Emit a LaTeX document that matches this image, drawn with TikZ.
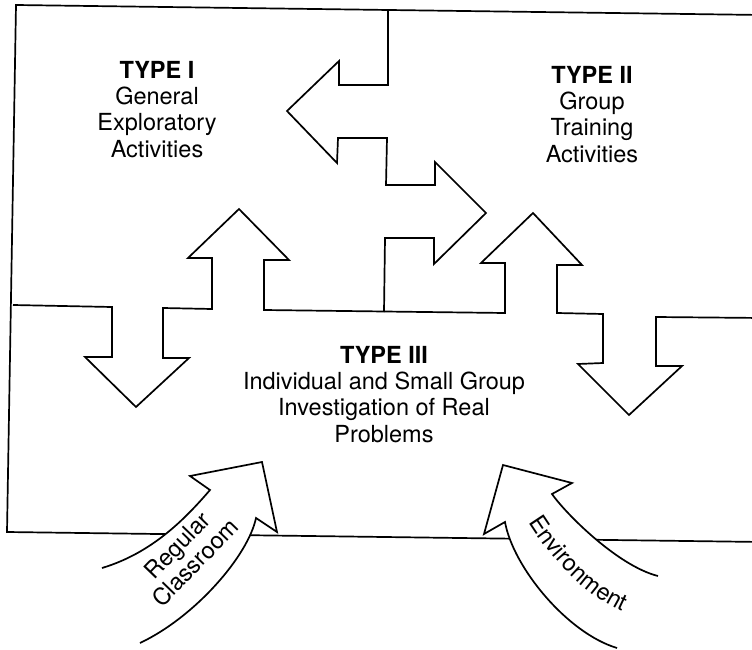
\documentclass[tikz,border=0pt]{standalone}
\usepackage{fontspec}
\setmainfont{TeX Gyre Heros}
\usetikzlibrary{decorations.text}
\begin{document}
\begin{tikzpicture}[x=1pt,y=-1pt,
  edge/.style={line width=1.7pt, line join=miter, line cap=butt},
  lbl/.style={font=\fontsize{23.5}{26.3}\selectfont, align=center, inner sep=0pt, anchor=north},
  flow/.style={edge, fill=white}
]
\useasboundingbox (0,0) rectangle (752,650);
% outer frame
\draw[edge] (762,15) -- (16,5) -- (7,532) -- (762,542);
% boundary Type I / Type III and Type II / Type III
\draw[edge] (13,305) -- (112,307) -- (112,357) -- (85,357) -- (136,407) -- (189,358)
  -- (163,358) -- (163,308) -- (212,309) -- (212,258) -- (188,258) -- (239,209)
  -- (289,260) -- (264,260) -- (264,310) -- (505,313) -- (505,263) -- (481,263)
  -- (533,213) -- (582,265) -- (557,265) -- (557,313) -- (603,314) -- (603,363)
  -- (578,364) -- (629,415) -- (682,366) -- (656,366) -- (656,317) -- (762,318);
% boundary Type I / Type II
\draw[edge] (388,11) -- (388,85) -- (339,85) -- (339,61) -- (287,111) -- (337,163)
  -- (338,138) -- (387,138) -- (386,185) -- (435,185) -- (435,162) -- (486,213)
  -- (434,264) -- (434,238) -- (385,238) -- (384,312);
% curved arrows
\draw[flow] (102,568) .. controls (152,553) and (185,519) .. (210,490) -- (190,476)
  -- (262,462) -- (277,532) -- (256,518) .. controls (248,556) and (195,617) .. (140,643);
\draw[flow] (617,648) .. controls (567,633) and (513,567) .. (505,522) -- (484,534)
  -- (503,465) -- (572,483) -- (552,494) .. controls (566,514) and (618,566) .. (658,576);
% labels
\node[lbl] (t1) at (157,60) {\rule{0pt}{18pt}\textbf{TYPE I}\\General\\Exploratory\\Activities};
\node[lbl] (t2) at (592,65) {\rule{0pt}{18pt}\textbf{TYPE II}\\Group\\Training\\Activities};
\node[lbl] (t3) at (384,345) {\rule{0pt}{18pt}\textbf{TYPE III}\\Individual and Small Group\\Investigation of Real\\Problems};
\node[font=\fontsize{23.5}{25}\selectfont, align=center, inner sep=0pt, rotate=46] (rc) at (186,554) {Regular\\Classroom};
\path[decorate, decoration={text along path, text align=center,
  text={|\fontsize{23.5}{26}\selectfont|Environment}}]
  (525,517) .. controls (545,550) and (580,595) .. (628,614);
\end{tikzpicture}
\end{document}
